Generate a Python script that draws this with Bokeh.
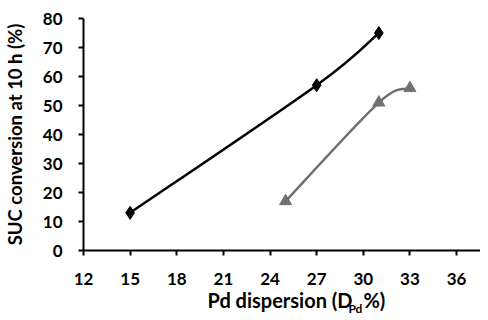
import numpy as np
from bokeh.plotting import figure
from bokeh.models import FixedTicker, Range1d, LinearAxis
from bokeh.embed import file_html
from bokeh.resources import INLINE

# data
x_black = [15, 27, 31]
y_black = [13, 57, 75]
x_gray = [25, 31, 33]
y_gray = [17, 51, 56]
x_ticks = [12, 15, 18, 21, 24, 27, 30, 33, 36]
y_ticks = [0, 10, 20, 30, 40, 50, 60, 70, 80]

# x-axis title pieces (text, anchor in x-axis units)
x_title_main = "Pd dispersion (D"
x_title_sub = "Pd"
x_title_end = "%)"
MAIN_AT, SUB_AT, END_AT = 24.64, 29.49, 30.71

FONT = "Lato"

p = figure(width=480, height=318, output_backend="svg", toolbar_location=None,
           x_range=Range1d(12, 37.54), y_range=Range1d(0, 80),
           min_border_left=82, min_border_right=0, min_border_top=18, min_border_bottom=66)
p.outline_line_color = None
p.xgrid.visible = False
p.ygrid.visible = False
p.background_fill_color = "white"

for ax in (p.xaxis[0], p.yaxis[0]):
    ax.axis_line_width = 2
    ax.axis_line_color = "black"
    ax.major_tick_line_width = 2
    ax.major_tick_line_color = "black"
    ax.major_tick_out = 5
    ax.major_tick_in = 0
    ax.minor_tick_line_color = None
    ax.major_label_text_font = FONT
    ax.major_label_text_font_style = "bold"
    ax.major_label_text_font_size = "17px"
    ax.major_label_text_color = "black"

p.xaxis.ticker = FixedTicker(ticks=x_ticks)
p.yaxis.ticker = FixedTicker(ticks=y_ticks)
p.xaxis.major_label_standoff = 17
p.yaxis.major_label_standoff = 16

p.yaxis.axis_label = "SUC conversion at 10 h (%)"
p.yaxis.axis_label_text_font = FONT
p.yaxis.axis_label_text_font_style = "bold"
p.yaxis.axis_label_text_font_size = "18.5px"
p.yaxis.axis_label_text_color = "black"
p.yaxis.axis_label_standoff = 14


def text_axis(ticks, overrides, size, standoff):
    ax = LinearAxis(ticker=FixedTicker(ticks=ticks), major_label_overrides=overrides)
    ax.axis_line_color = None
    ax.major_tick_line_color = None
    ax.minor_tick_line_color = None
    ax.major_tick_out = 0
    ax.major_tick_in = 0
    ax.major_label_standoff = standoff
    ax.major_label_text_font = FONT
    ax.major_label_text_font_style = "bold"
    ax.major_label_text_font_size = size
    ax.major_label_text_color = "black"
    return ax


p.add_layout(text_axis([MAIN_AT, END_AT], {MAIN_AT: x_title_main, END_AT: x_title_end}, "20px", 0), "below")
p.add_layout(text_axis([SUB_AT], {SUB_AT: x_title_sub}, "12px", -14), "below")


def smooth_segments(xs, ys):
    pts = np.column_stack([xs, ys]).astype(float)
    n = len(pts)
    x0, y0, x1, y1, cx0, cy0, cx1, cy1 = ([] for _ in range(8))
    for i in range(n - 1):
        pm = pts[i - 1] if i > 0 else pts[i]
        pa = pts[i]
        pb = pts[i + 1]
        pn = pts[i + 2] if i + 2 < n else pts[i + 1]
        c0 = pa + (pb - pm) / 6.0
        c1 = pb - (pn - pa) / 6.0
        x0.append(pa[0]); y0.append(pa[1]); x1.append(pb[0]); y1.append(pb[1])
        cx0.append(c0[0]); cy0.append(c0[1]); cx1.append(c1[0]); cy1.append(c1[1])
    return dict(x0=x0, y0=y0, x1=x1, y1=y1, cx0=cx0, cy0=cy0, cx1=cx1, cy1=cy1)


gray = "#707070"
p.bezier(**smooth_segments(x_black, y_black), line_color="black", line_width=2.5)
p.bezier(**smooth_segments(x_gray, y_gray), line_color=gray, line_width=2.5)
p.scatter(x_black, y_black, marker="diamond", size=13, fill_color="black", line_color="black")
p.scatter(x_gray, y_gray, marker="triangle", size=12, fill_color=gray, line_color=gray)

open("out.html", "w").write(file_html(p, INLINE))
